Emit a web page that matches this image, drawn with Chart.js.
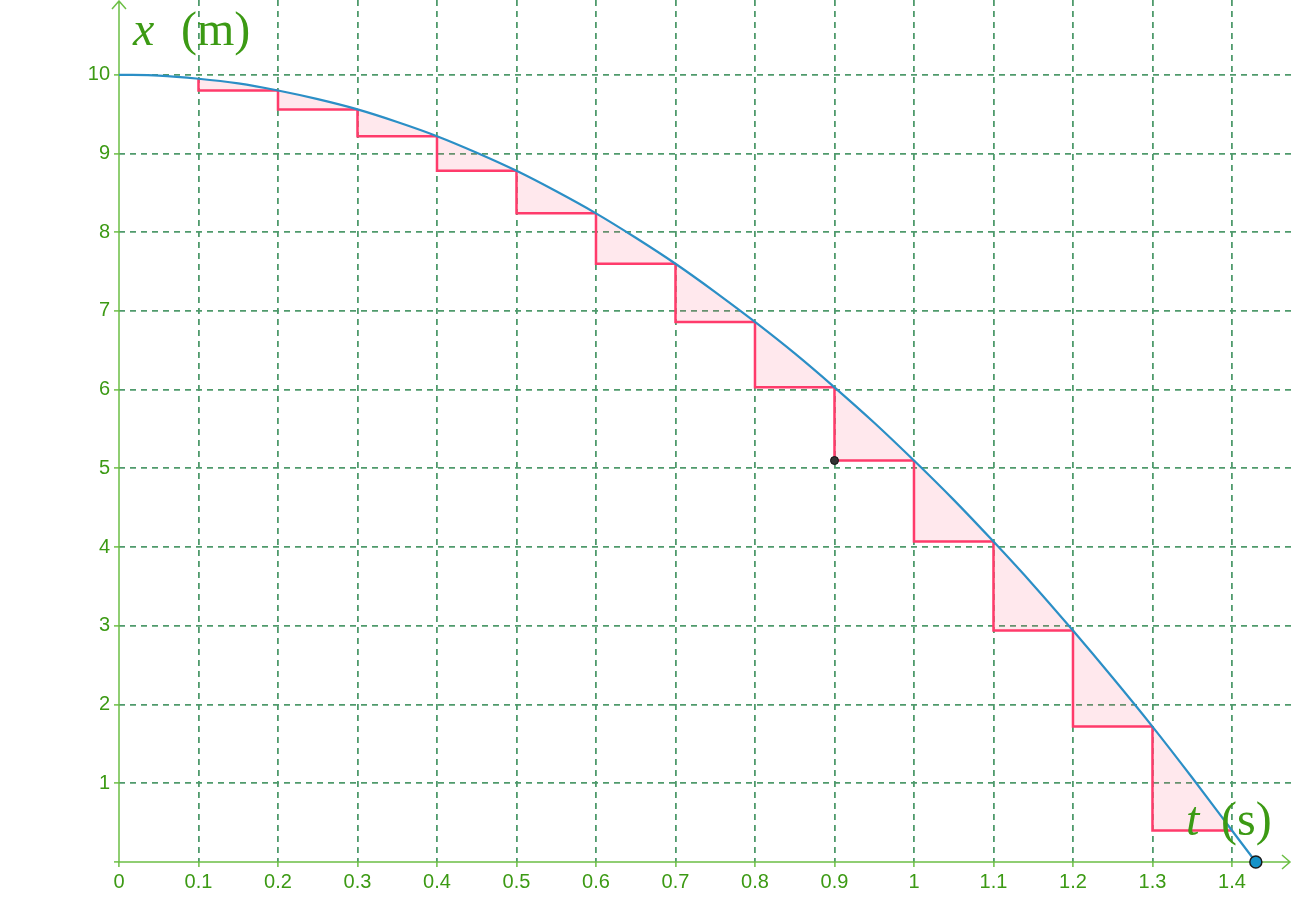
<!DOCTYPE html>
<html>
<head>
<meta charset="utf-8">
<script src="https://cdn.jsdelivr.net/npm/chart.js@4.4.1/dist/chart.umd.min.js"></script>
<style>
  body { margin: 0; background: #fff; }
  #wrap { width: 1292px; height: 900px; }
</style>
</head>
<body>
<div id="wrap"><canvas id="fall" width="1292" height="900"></canvas></div>
<script>
// valeurs
const tSteps = [0, 0.1, 0.2, 0.3, 0.4, 0.5, 0.6, 0.7, 0.8, 0.9, 1.0, 1.1, 1.2, 1.3, 1.4];
const xSteps = [10, 9.95, 9.80, 9.56, 9.22, 8.78, 8.24, 7.60, 6.86, 6.03, 5.10, 4.07, 2.94, 1.72, 0.40];

const tCurve = [0, 0.05, 0.1, 0.15, 0.2, 0.25, 0.3, 0.35, 0.4, 0.45, 0.5, 0.55, 0.6, 0.65, 0.7,
  0.75, 0.8, 0.85, 0.9, 0.95, 1.0, 1.05, 1.1, 1.15, 1.2, 1.25, 1.3, 1.35, 1.4, 1.43];
const xCurve = [10, 9.99, 9.95, 9.89, 9.80, 9.69, 9.56, 9.40, 9.22, 9.01, 8.78, 8.52, 8.24, 7.93, 7.60,
  7.24, 6.86, 6.46, 6.03, 5.58, 5.10, 4.60, 4.07, 3.52, 2.94, 2.34, 1.72, 1.07, 0.40, 0];

const tTickLabels = ["0", "0.1", "0.2", "0.3", "0.4", "0.5", "0.6", "0.7", "0.8", "0.9", "1", "1.1", "1.2", "1.3", "1.4"];
const xTickLabels = ["", "1", "2", "3", "4", "5", "6", "7", "8", "9", "10"];

const markPoint = { t: 0.9, x: 5.10 };
const endPoint = { t: 1.43, x: 0 };

const green = "#3c9a14";
const axisGreen = "#6cbf45";
const gridGreen = "#4f9a6c";

// escaliers + remplissages
const stepLine = [];
const fillSets = [];
for (let k = 1; k < tSteps.length - 1; k++) {
  stepLine.push({ x: tSteps[k], y: xSteps[k] });
  stepLine.push({ x: tSteps[k], y: xSteps[k + 1] });
  stepLine.push({ x: tSteps[k + 1], y: xSteps[k + 1] });
  stepLine.push({ x: tSteps[k + 1], y: null });
  const mid = tCurve.indexOf(Math.round((tSteps[k] + 0.05) * 100) / 100);
  fillSets.push({
    data: [
      { x: tSteps[k], y: xSteps[k] },
      { x: tSteps[k], y: xSteps[k + 1] },
      { x: tSteps[k + 1], y: xSteps[k + 1] },
      { x: tCurve[mid], y: xCurve[mid] },
      { x: tSteps[k], y: xSteps[k] }
    ],
    showLine: true,
    fill: "shape",
    backgroundColor: "rgba(255, 90, 130, 0.14)",
    borderWidth: 0,
    pointRadius: 0,
    order: 3
  });
}

const axesPlugin = {
  id: "axes",
  beforeDatasetsDraw(chart) {
    const { ctx, chartArea: a } = chart;
    ctx.save();
    ctx.strokeStyle = axisGreen;
    ctx.lineWidth = 1.5;
    ctx.beginPath();
    ctx.moveTo(a.left, a.bottom);
    ctx.lineTo(1290, a.bottom);
    ctx.moveTo(1282, a.bottom - 7);
    ctx.lineTo(1290, a.bottom);
    ctx.lineTo(1282, a.bottom + 7);
    ctx.moveTo(a.left, a.bottom);
    ctx.lineTo(a.left, 1);
    ctx.moveTo(a.left - 7, 9);
    ctx.lineTo(a.left, 1);
    ctx.lineTo(a.left + 7, 9);
    ctx.stroke();
    ctx.restore();
  },
  afterDraw(chart) {
    const { ctx } = chart;
    ctx.save();
    ctx.fillStyle = green;
    ctx.textBaseline = "alphabetic";
    ctx.font = "italic 48px 'Liberation Serif', serif";
    ctx.fillText("x", 133, 45);
    ctx.fillText("t", 1186, 835);
    ctx.font = "48px 'Liberation Serif', serif";
    ctx.fillText("(m)", 181, 45);
    ctx.fillText("(s)", 1221, 835);
    ctx.restore();
  }
};

const ctx = document.getElementById("fall").getContext("2d");
const chart = new Chart(ctx, {
  type: "scatter",
  data: {
    datasets: [
      {
        data: [{ x: markPoint.t, y: markPoint.x }],
        pointRadius: 4,
        backgroundColor: "#333333",
        borderColor: "#111111",
        borderWidth: 1,
        clip: false,
        order: 0
      },
      {
        data: [{ x: endPoint.t, y: endPoint.x }],
        pointRadius: 6,
        backgroundColor: "#1592c8",
        borderColor: "#1a1a1a",
        borderWidth: 1.5,
        clip: false,
        order: 0
      },
      {
        data: tCurve.map((t, i) => ({ x: t, y: xCurve[i] })),
        showLine: true,
        borderColor: "#2b8fc6",
        borderWidth: 2.2,
        pointRadius: 0,
        cubicInterpolationMode: "monotone",
        order: 1
      },
      {
        data: stepLine,
        showLine: true,
        spanGaps: false,
        borderColor: "#ff3b6b",
        borderWidth: 2.5,
        pointRadius: 0,
        order: 2
      },
      ...fillSets
    ]
  },
  options: {
    responsive: false,
    animation: false,
    layout: { padding: 0, autoPadding: false },
    plugins: {
      legend: { display: false },
      tooltip: { enabled: false }
    },
    scales: {
      x: {
        type: "linear",
        min: 0,
        max: 1.4755,
        afterBuildTicks: s => { s.ticks = tSteps.map(v => ({ value: v })); },
        afterFit: s => {
          s.height = 38;
          s.paddingLeft = 0; s.paddingRight = 0; s.paddingTop = 0; s.paddingBottom = 0;
        },
        ticks: {
          color: green,
          font: { family: "'Liberation Sans', Arial", size: 20 },
          padding: 3,
          maxRotation: 0,
          autoSkip: false,
          callback: (v, i) => tTickLabels[i]
        },
        grid: {
          color: c => (c.tick && c.tick.value === 0 ? "rgba(0,0,0,0)" : gridGreen),
          lineWidth: 1.8,
          tickLength: 5,
          tickColor: axisGreen,
          tickWidth: 1.5
        },
        border: { display: false, dash: [6, 5] }
      },
      y: {
        type: "linear",
        min: 0,
        max: 10.95,
        afterBuildTicks: s => { s.ticks = xTickLabels.map((l, i) => ({ value: i })); },
        afterFit: s => {
          s.width = 119;
          s.paddingLeft = 0; s.paddingRight = 0; s.paddingTop = 0; s.paddingBottom = 0;
        },
        ticks: {
          color: green,
          font: { family: "'Liberation Sans', Arial", size: 20 },
          padding: 4,
          autoSkip: false,
          callback: (v, i) => xTickLabels[i]
        },
        grid: {
          color: c => (c.tick && c.tick.value === 0 ? "rgba(0,0,0,0)" : gridGreen),
          lineWidth: 1.8,
          tickLength: 5,
          tickColor: axisGreen,
          tickWidth: 1.5
        },
        border: { display: false, dash: [6, 5] }
      }
    }
  },
  plugins: [axesPlugin]
});
</script>
</body>
</html>
